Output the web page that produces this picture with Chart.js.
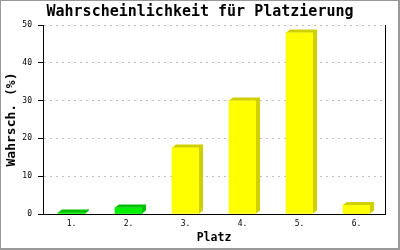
<!DOCTYPE html>
<html>
<head>
<meta charset="utf-8">
<script src="https://cdn.jsdelivr.net/npm/chart.js@4.4.1/dist/chart.umd.min.js"></script>
<style>
  html, body { margin: 0; padding: 0; background: #fff; }
</style>
</head>
<body>
<canvas id="chart" width="400" height="250"></canvas>
<script>
const places = ['1.', '2.', '3.', '4.', '5.', '6.'];
const chances = [0.4, 1.7, 17.6, 30, 48, 2.4];
const frontColors = ['#00f000', '#00f000', '#ffff00', '#ffff00', '#ffff00', '#ffff00'];
const sideColors = ['#00c000', '#00c000', '#d0d000', '#d0d000', '#d0d000', '#d0d000'];

const MONO = "'DejaVu Sans Mono', monospace";
const DX = 4, DY = 3; // depth of the 3d effect

// side + top face for each bar
const depth3d = {
    id: 'depth3d',
    afterDatasetsDraw(chart) {
        const ctx = chart.ctx;
        chart.getDatasetMeta(0).data.forEach((bar, i) => {
            const { x, y, base, width } = bar.getProps(['x', 'y', 'base', 'width'], true);
            const left = x - width / 2, right = x + width / 2;
            ctx.save();
            ctx.fillStyle = sideColors[i];
            ctx.beginPath();
            ctx.moveTo(left, y);
            ctx.lineTo(left + DX, y - DY);
            ctx.lineTo(right + DX, y - DY);
            ctx.lineTo(right + DX, base - DY);
            ctx.lineTo(right, base);
            ctx.lineTo(right, y);
            ctx.closePath();
            ctx.fill();
            ctx.restore();
        });
    }
};

// grey frame round the picture
const frame = {
    id: 'frame',
    afterDraw(chart) {
        const ctx = chart.ctx;
        const w = chart.width, h = chart.height;
        ctx.save();
        ctx.fillStyle = '#999';
        ctx.fillRect(0, 0, w, 1);
        ctx.fillRect(0, 0, 1, h);
        ctx.fillRect(w - 2, 0, 2, h);
        ctx.fillRect(0, h - 2, w, 2);
        ctx.restore();
    }
};

new Chart(document.getElementById('chart'), {
    type: 'bar',
    data: {
        labels: places,
        datasets: [{
            data: chances,
            backgroundColor: frontColors,
            borderWidth: 0,
            barThickness: 27
        }]
    },
    options: {
        responsive: false,
        animation: false,
        layout: { padding: 0 },
        plugins: {
            legend: { display: false },
            tooltip: { enabled: false },
            title: {
                display: true,
                text: 'Wahrscheinlichkeit für Platzierung',
                color: '#000',
                font: { family: MONO, size: 15, weight: 'bold' },
                padding: { top: 3, bottom: 4 }
            }
        },
        scales: {
            x: {
                grid: { display: false, drawTicks: false },
                border: { color: '#000', width: 1 },
                ticks: { color: '#000', padding: 5, font: { family: MONO, size: 8 } },
                title: {
                    display: true,
                    text: 'Platz',
                    color: '#000',
                    font: { family: MONO, size: 11.5, weight: 'bold' },
                    padding: { top: 0, bottom: 5 }
                },
                afterFit: (scale) => { scale.height = 36; }
            },
            y: {
                min: 0,
                max: 50,
                ticks: { stepSize: 10, color: '#000', padding: 6, font: { family: MONO, size: 8 } },
                grid: {
                    color: '#c0c0c0',
                    tickColor: '#000',
                    tickLength: 5,
                    tickBorderDash: []
                },
                border: { color: '#000', width: 1, dash: [2, 4] },
                title: {
                    display: true,
                    text: 'Wahrsch. (%)',
                    color: '#000',
                    font: { family: MONO, size: 13, weight: 'bold' },
                    padding: { top: 4, bottom: 0 }
                },
                afterFit: (scale) => { scale.width = 43; }
            },
            yRight: {
                position: 'right',
                grid: { display: false },
                ticks: { display: false },
                border: { color: '#000', width: 1 },
                afterFit: (scale) => { scale.width = 15; }
            }
        }
    },
    plugins: [depth3d, frame]
});
</script>
</body>
</html>
